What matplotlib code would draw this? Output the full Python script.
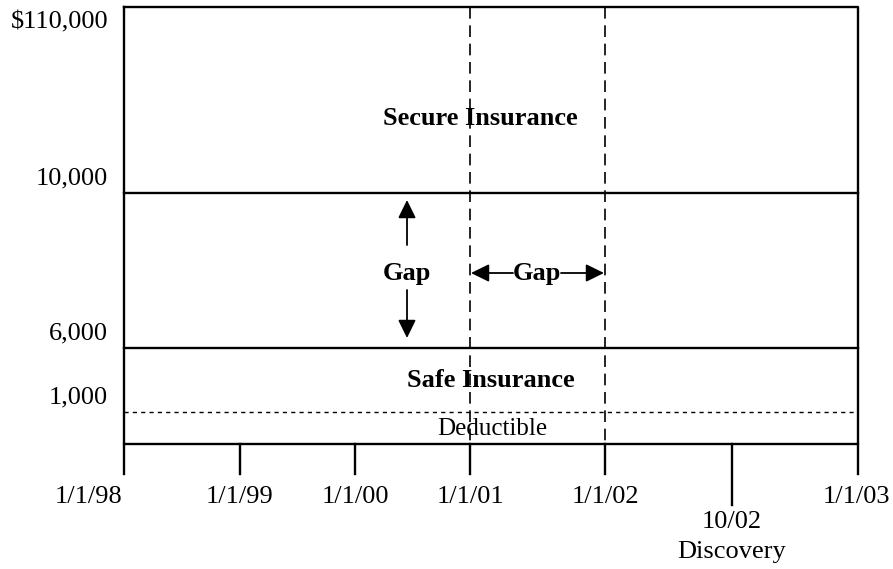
import matplotlib.pyplot as plt

# diagram layout in pixel units (x to the right, y downwards)
date_labels = ['1/1/98', '1/1/99', '1/1/00', '1/1/01', '1/1/02', '1/1/03']
date_x = [124, 240, 355, 470, 605, 858]
discovery_label = '10/02\nDiscovery'
discovery_x = 732

amount_labels = ['$110,000', '10,000', '6,000', '1,000']
amount_y = [7, 193, 348, 412]   # top, secure/gap, gap/safe, deductible
bottom_y = 444

plt.rcParams['font.family'] = ['Liberation Serif', 'DejaVu Serif']

fig = plt.figure(figsize=(8.93, 5.69), dpi=100)
ax = fig.add_axes([0, 0, 1, 1])
ax.set_xlim(0, 893)
ax.set_ylim(569, 0)
ax.axis('off')

left, right = date_x[0], date_x[-1]
lw = 1.7
fs = 19

# outer box and layer lines
ax.plot([left, right, right, left, left],
        [amount_y[0], amount_y[0], bottom_y, bottom_y, amount_y[0]], color='black', lw=lw)
ax.plot([left, right], [amount_y[1]] * 2, color='black', lw=lw)
ax.plot([left, right], [amount_y[2]] * 2, color='black', lw=lw)
ax.plot([left, right], [amount_y[3]] * 2, color='black', lw=1.0, dashes=(3, 3))

# ticks below the box
for x in date_x:
    ax.plot([x, x], [bottom_y, 474], color='black', lw=lw)
ax.plot([discovery_x, discovery_x], [bottom_y, 505], color='black', lw=lw)

# date labels
for lab, x in zip(date_labels, date_x):
    xx = x
    if lab == '1/1/98':
        xx = x - 35
    elif lab == '1/1/03':
        xx = x - 2
    ax.text(xx, 497, lab, ha='center', va='center', fontsize=fs)
ax.text(discovery_x, 537, discovery_label, ha='center', va='center', fontsize=fs,
        linespacing=1.45)

# amount labels (first one sits below the top line, others above their line)
label_off = [15, -15, -15, -15]
for lab, y, off in zip(amount_labels, amount_y, label_off):
    ax.text(108, y + off, lab, ha='right', va='center', fontsize=fs)

# gap period lines
for x in [470, 605]:
    ax.plot([x, x], [amount_y[0], bottom_y], color='black', lw=1.2, dashes=(7, 4))

# labels inside
ax.text(480, 118, 'Secure Insurance', ha='center', va='center', fontsize=fs, fontweight='bold')
ax.text(491, 380, 'Safe Insurance', ha='center', va='center', fontsize=fs, fontweight='bold')
ax.text(492, 429, 'Deductible', ha='center', va='center', fontsize=18)
ax.text(407, 273, 'Gap', ha='center', va='center', fontsize=fs, fontweight='bold')
ax.text(537, 273, 'Gap', ha='center', va='center', fontsize=fs, fontweight='bold')

# mutation_scale is in points: 20pt ~ 28px
arrow = dict(arrowstyle='-|>,head_length=0.55,head_width=0.27', color='black', lw=1.3,
             mutation_scale=20, shrinkA=0, shrinkB=0)
ax.annotate('', xy=(407, 200), xytext=(407, 245), arrowprops=arrow)
ax.annotate('', xy=(407, 338), xytext=(407, 290), arrowprops=arrow)
ax.annotate('', xy=(471, 273), xytext=(513, 273), arrowprops=arrow)
ax.annotate('', xy=(604, 273), xytext=(561, 273), arrowprops=arrow)

fig.savefig('out.png', dpi=100)
